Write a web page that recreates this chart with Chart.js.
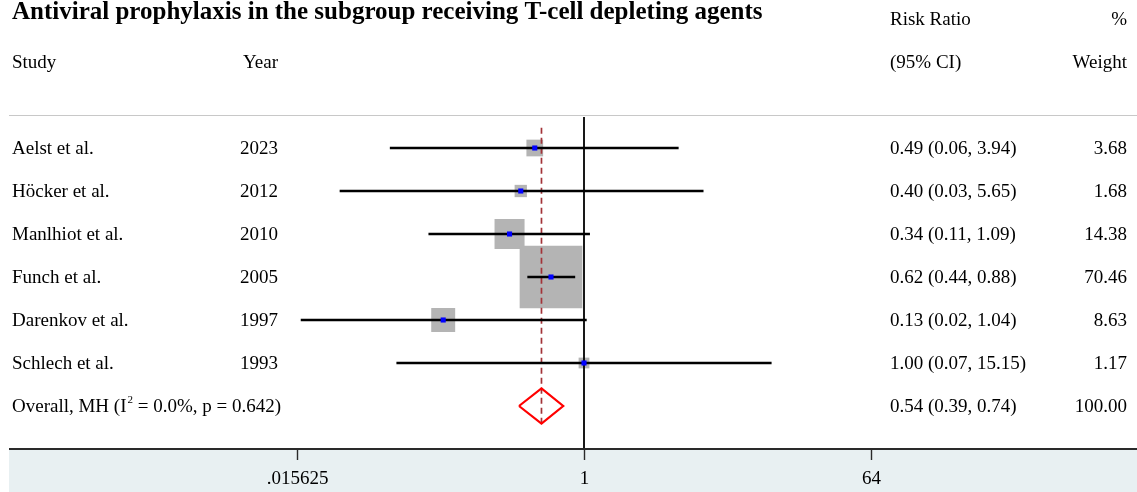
<!DOCTYPE html>
<html>
<head>
<meta charset="utf-8">
<script src="https://cdn.jsdelivr.net/npm/chart.js@4"></script>
<style>
  html, body { margin: 0; padding: 0; background: #fff; }
  #wrap { width: 1137px; height: 492px; position: relative; }
</style>
</head>
<body>
<div id="wrap"><canvas id="forest"></canvas></div>
<script>
// Study data
const studies = ['Aelst et al.', 'Höcker et al.', 'Manlhiot et al.', 'Funch et al.', 'Darenkov et al.', 'Schlech et al.'];
const years = ['2023', '2012', '2010', '2005', '1997', '1993'];
const rr = [0.49, 0.40, 0.34, 0.62, 0.13, 1.00];
const ciLow = [0.06, 0.029, 0.105, 0.44, 0.0165, 0.066];
const ciHigh = [3.94, 5.65, 1.09, 0.88, 1.04, 15.15];
const weights = [3.68, 1.68, 14.38, 70.46, 8.63, 1.17];
const ciText = ['0.49 (0.06, 3.94)', '0.40 (0.03, 5.65)', '0.34 (0.11, 1.09)', '0.62 (0.44, 0.88)', '0.13 (0.02, 1.04)', '1.00 (0.07, 15.15)'];

// Overall (Mantel-Haenszel) estimate
const overallLabelParts = ['Overall, MH (I', '2', ' = 0.0%, p = 0.642)'];
const overallRR = 0.54;
const overallLow = 0.39;
const overallHigh = 0.74;
const overallText = '0.54 (0.39, 0.74)';
const overallWeight = '100.00';

// x axis ticks (log base 2)
const xTicks = [0.015625, 1, 64];
const xTickLabels = ['.015625', '1', '64'];

const SERIF = '"Liberation Serif", "Times New Roman", serif';
const overallRow = studies.length;
const rows = studies.map((s, i) => i);

// box side grows with sqrt(weight), rect pointStyle side = sqrt(2) * radius
function boxRadius(w) {
    return (7.1 * Math.sqrt(w) + 3.1) / Math.SQRT2;
}

const datasets = [];

// grey weight boxes (drawn first, underneath)
datasets.push({
    type: 'scatter',
    order: 6,
    data: rows.map(i => ({ x: rr[i], y: i })),
    pointStyle: 'rect',
    pointRadius: weights.map(boxRadius),
    backgroundColor: '#b4b4b4',
    borderWidth: 0
});

// dashed line at the pooled estimate
datasets.push({
    type: 'line',
    order: 5,
    data: [{ x: overallRR, y: -0.47 }, { x: overallRR, y: overallRow + 0.49 }],
    borderColor: '#a33338',
    borderWidth: 1.7,
    borderDash: [6, 4],
    pointRadius: 0
});

// line of no effect
datasets.push({
    type: 'line',
    order: 4,
    data: [{ x: 1, y: -0.72 }, { x: 1, y: 7 }],
    borderColor: '#000',
    borderWidth: 1.8,
    pointRadius: 0
});

// confidence intervals
rows.forEach(i => {
    datasets.push({
        type: 'line',
        order: 3,
        data: [{ x: ciLow[i], y: i }, { x: ciHigh[i], y: i }],
        borderColor: '#000',
        borderWidth: 2.6,
        pointRadius: 0
    });
});

// point estimates
datasets.push({
    type: 'scatter',
    order: 2,
    data: rows.map(i => ({ x: rr[i], y: i })),
    pointStyle: 'rect',
    pointRadius: 3.6,
    backgroundColor: '#0000ff',
    borderWidth: 0
});

// overall diamond
const dh = 0.41;
datasets.push({
    type: 'line',
    order: 1,
    data: [
        { x: overallLow, y: overallRow },
        { x: overallRR, y: overallRow - dh },
        { x: overallHigh, y: overallRow },
        { x: overallRR, y: overallRow + dh },
        { x: overallLow, y: overallRow }
    ],
    borderColor: '#ff0000',
    borderWidth: 2.2,
    pointRadius: 0,
    tension: 0
});

// table text, header and the x axis panel
const tablePlugin = {
    id: 'tablePlugin',
    beforeDraw(chart) {
        const ctx = chart.ctx;
        const area = chart.chartArea;
        ctx.save();
        ctx.fillStyle = '#ffffff';
        ctx.fillRect(0, 0, chart.width, chart.height);
        // axis panel
        ctx.fillStyle = '#e8f0f2';
        ctx.fillRect(area.left, area.bottom, chart.width - area.left, chart.height - area.bottom);
        // header separator
        ctx.strokeStyle = '#c8c8c8';
        ctx.lineWidth = 1.2;
        ctx.beginPath();
        ctx.moveTo(area.left, 115.5);
        ctx.lineTo(chart.width, 115.5);
        ctx.stroke();
        ctx.restore();
    },
    afterDraw(chart) {
        const ctx = chart.ctx;
        const area = chart.chartArea;
        const x = chart.scales.x;
        const y = chart.scales.y;
        const F = '19px ' + SERIF;
        ctx.save();

        // axis line and ticks
        ctx.strokeStyle = '#2a2a2a';
        ctx.lineWidth = 2;
        ctx.beginPath();
        ctx.moveTo(area.left, area.bottom);
        ctx.lineTo(chart.width, area.bottom);
        ctx.stroke();
        ctx.lineWidth = 1.4;
        ctx.fillStyle = '#000';
        ctx.font = F;
        ctx.textAlign = 'center';
        ctx.textBaseline = 'middle';
        xTicks.forEach((t, k) => {
            const px = Math.round(x.getPixelForValue(t)) + 0.5;
            ctx.beginPath();
            ctx.moveTo(px, area.bottom);
            ctx.lineTo(px, area.bottom + 11);
            ctx.stroke();
            ctx.fillText(xTickLabels[k], px, area.bottom + 30);
        });

        // title
        ctx.textAlign = 'left';
        ctx.font = 'bold 25px ' + SERIF;
        ctx.fillText('Antiviral prophylaxis in the subgroup receiving T-cell depleting agents', 12, 13);

        // column headers
        ctx.font = F;
        ctx.fillText('Study', 12, 63);
        ctx.fillText('Year', 243, 63);
        ctx.fillText('Risk Ratio', 890, 20);
        ctx.fillText('(95% CI)', 890, 63);
        ctx.textAlign = 'right';
        ctx.fillText('%', 1127, 20);
        ctx.fillText('Weight', 1127, 63);

        // rows
        rows.forEach(i => {
            const py = y.getPixelForValue(i) + 1;
            ctx.textAlign = 'left';
            ctx.fillText(studies[i], 12, py);
            ctx.fillText(years[i], 240, py);
            ctx.fillText(ciText[i], 890, py);
            ctx.textAlign = 'right';
            ctx.fillText(weights[i].toFixed(2), 1127, py);
        });

        // overall row, with a raised small "2"
        const oy = y.getPixelForValue(overallRow) + 1;
        ctx.textAlign = 'left';
        let tx = 12;
        ctx.fillText(overallLabelParts[0], tx, oy);
        tx += ctx.measureText(overallLabelParts[0]).width + 1;
        ctx.font = '11px ' + SERIF;
        ctx.fillText(overallLabelParts[1], tx, oy - 7);
        tx += ctx.measureText(overallLabelParts[1]).width;
        ctx.font = F;
        ctx.fillText(overallLabelParts[2], tx, oy);
        ctx.fillText(overallText, 890, oy);
        ctx.textAlign = 'right';
        ctx.fillText(overallWeight, 1127, oy);

        ctx.restore();
    }
};

new Chart(document.getElementById('forest'), {
    data: { datasets: datasets },
    options: {
        responsive: true,
        maintainAspectRatio: false,
        animation: false,
        layout: { autoPadding: false, padding: { left: 9, right: 0, top: 0, bottom: 43 } },
        plugins: {
            legend: { display: false },
            tooltip: { enabled: false }
        },
        scales: {
            x: {
                type: 'logarithmic',
                display: false,
                min: Math.pow(2, -12.02),
                max: Math.pow(2, 11.56)
            },
            y: {
                type: 'linear',
                display: false,
                reverse: true,
                min: -3.442,
                max: 7
            }
        }
    },
    plugins: [tablePlugin]
});
</script>
</body>
</html>
